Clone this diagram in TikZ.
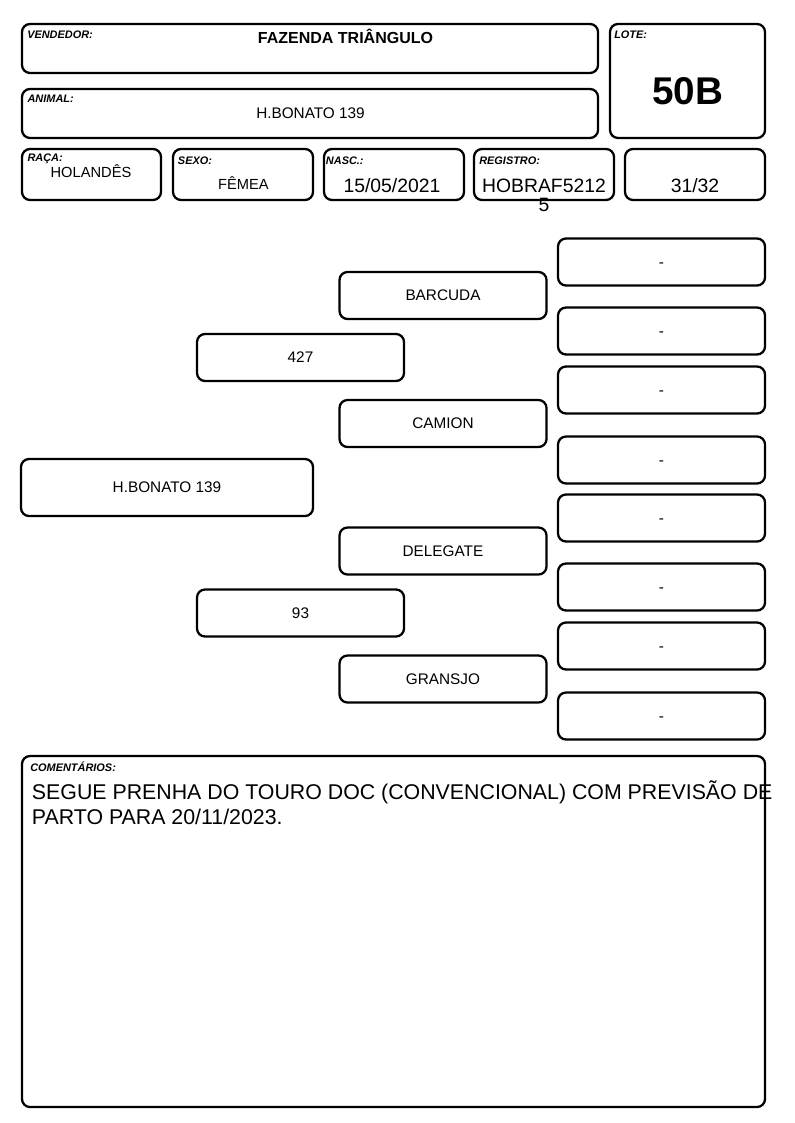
\documentclass[tikz,border=0pt]{standalone}
\usepackage{fontspec}
\setmainfont{Liberation Sans}

\begin{document}
\begin{tikzpicture}[
        x=0.75pt, y=-0.75pt,
        cell/.style 2 args={draw, line width=1.7pt, rounded corners=6pt, inner sep=0pt,
                    minimum width=#1*0.75pt, minimum height=#2*0.75pt},
        peg/.style={cell={207}{47}, font=\fontsize{11.5}{12}\selectfont,
                    text height=8.2pt, text depth=0pt},
        tag/.style={font=\fontsize{8.2}{8.2}\selectfont\bfseries\itshape, inner sep=0pt, anchor=base west},
        val/.style={inner sep=0pt, anchor=base, align=center}]

    \fill[white] (0,0) rectangle (794,1123);
    \useasboundingbox (0,0) rectangle (794,1123);

    % --- cabeçalho
    \node[cell={576}{49}] (vend) at (310,48.5)  {};
    \node[cell={576}{49}] (anim) at (310,113.5) {};
    \node[cell={155}{114}] (lote) at (687.5,81) {};
    \node[cell={139}{51}] (raca) at (91.5,174.5) {};
    \node[cell={140}{51}] (sexo) at (243,174.5)  {};
    \node[cell={140}{51}] (nasc) at (394,174.5)  {};
    \node[cell={140}{51}] (regi) at (544,174.5)  {};
    \node[cell={140}{51}] (frac) at (695,174.5)  {};

    \node[tag] (vendtag) at (27,39)      {VENDEDOR:};
    \node[tag] (animtag) at (27.3,102.7) {ANIMAL:};
    \node[tag] (lotetag) at (614,38.3)   {LOTE:};
    \node[tag] (racatag) at (27.3,162)   {RAÇA:};
    \node[tag] (sexotag) at (177.7,165)  {SEXO:};
    \node[tag] (nasctag) at (325.7,165)  {NASC.:};
    \node[tag] (regitag) at (479,165)    {REGISTRO:};

    \node[val, font=\fontsize{12}{12}\selectfont\bfseries] (vendval) at (345.5,43.3) {FAZENDA TRIÂNGULO};
    \node[val, font=\fontsize{11.5}{12}\selectfont]        (animval) at (310.5,119)  {H.BONATO 139};
    \node[val, font=\fontsize{29}{29}\selectfont\bfseries] (loteval) at (687.5,105)  {50B};
    \node[val, font=\fontsize{11}{11}\selectfont]          (racaval) at (91,177.7)   {HOLANDÊS};
    \node[val, font=\fontsize{11}{11}\selectfont]          (sexoval) at (243.5,189.3) {FÊMEA};
    \node[val, font=\fontsize{14.5}{14.5}\selectfont]      (nascval) at (392,192.3)  {15/05/2021};
    % texto quebrado: a base e a da ultima linha
    \node[val, font=\fontsize{14.5}{14.5}\selectfont]      (regival) at (544,211.7)  {HOBRAF5212\\5};
    \node[val, font=\fontsize{14.5}{14.5}\selectfont]      (fracval) at (695,192.3)  {31/32};

    % --- genealogia
    \node[cell={292}{57}, font=\fontsize{11.5}{12}\selectfont] (self) at (167,487.5) {H.BONATO 139};
    \node[peg] (pai)  at (300.5,357.5) {427};
    \node[peg] (mae)  at (300.5,613)   {93};
    \node[peg] (avp1) at (443,295.5)   {BARCUDA};
    \node[peg] (avp2) at (443,423.5)   {CAMION};
    \node[peg] (avm1) at (443,551)     {DELEGATE};
    \node[peg] (avm2) at (443,679)     {GRANSJO};
    \node[peg] (bis1) at (661.5,262)   {-};
    \node[peg] (bis2) at (661.5,331)   {-};
    \node[peg] (bis3) at (661.5,390)   {-};
    \node[peg] (bis4) at (661.5,460)   {-};
    \node[peg] (bis5) at (661.5,518)   {-};
    \node[peg] (bis6) at (661.5,587)   {-};
    \node[peg] (bis7) at (661.5,646)   {-};
    \node[peg] (bis8) at (661.5,716)   {-};

    % --- comentários
    \node[cell={743}{351}] (coment) at (393.5,931.5) {};
    \node[tag] (comtag) at (30,771.7) {COMENTÁRIOS:};
    \node[inner sep=0pt, anchor=base west, align=left, font=\fontsize{16}{18.75}\selectfont]
        (comval) at (31.7,824.3) {SEGUE PRENHA DO TOURO DOC (CONVENCIONAL) COM PREVISÃO DE\\PARTO PARA 20/11/2023.};

\end{tikzpicture}
\end{document}
